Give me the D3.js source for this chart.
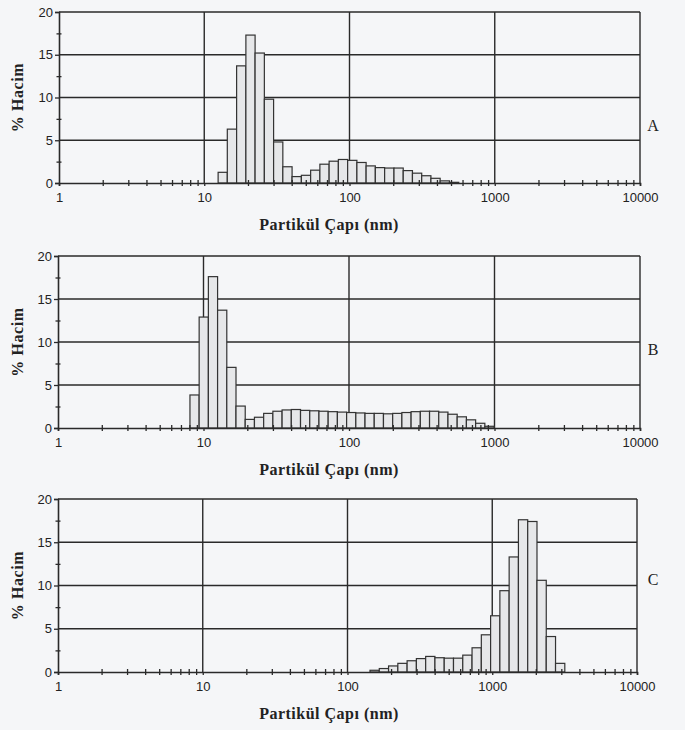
<!DOCTYPE html>
<html>
<head>
<meta charset="utf-8">
<script src="https://cdn.jsdelivr.net/npm/d3@7"></script>
<style>
body { margin:0; background:#f5f6f8; }
svg { display:block; }
.tick text { font-family:"Liberation Sans", Arial, sans-serif; font-size:13px; fill:#222; }
.ttl { font-family:"Liberation Serif", "DejaVu Serif", serif; font-weight:bold; fill:#222; }
</style>
</head>
<body>
<svg id="chart" width="685" height="730"></svg>
<script>
// particle diameter (nm) at the centre of each bin, and % volume
var sizesA = [13.4, 15.5, 18.0, 20.8, 24.1, 27.9, 32.3, 37.4, 43.3, 50.2, 58.1, 67.3, 77.9,
              90.2, 104.5, 121, 140, 162, 188, 218, 252, 292, 338, 391, 453, 525];
var volumeA = [1.25, 6.3, 13.7, 17.3, 15.2, 9.8, 4.8, 1.9, 0.75, 0.9, 1.5, 2.2, 2.55,
               2.75, 2.65, 2.4, 2.0, 1.8, 1.75, 1.75, 1.45, 1.15, 0.85, 0.55, 0.25, 0.08];

var sizesB = [8.68, 10.04, 11.62, 13.44, 15.55, 17.99, 20.82, 24.09, 27.87, 32.25, 37.31,
              43.17, 49.95, 57.79, 66.86, 77.36, 89.51, 103.6, 119.8, 138.6, 160.4, 185.6,
              214.7, 248.4, 287.4, 332.6, 384.8, 445.2, 515.1, 596, 689.6, 797.9, 923.2];
var volumeB = [3.84, 12.9, 17.6, 13.7, 7.05, 2.55, 1.0, 1.25, 1.7, 1.95, 2.1,
               2.15, 2.05, 2.0, 1.95, 1.9, 1.85, 1.8, 1.75, 1.7, 1.7, 1.65,
               1.7, 1.8, 1.9, 1.95, 1.95, 1.85, 1.6, 1.3, 0.95, 0.55, 0.2];

var sizesC = [154, 178.5, 206.9, 239.8, 277.9, 322.1, 373.3, 432.7, 501.5, 581.2, 673.6,
              780.7, 904.8, 1048.7, 1215.4, 1408.7, 1632.7, 1892.3, 2193.2, 2541.9, 2946.1];
var volumeC = [0.2, 0.4, 0.7, 1.0, 1.3, 1.55, 1.8, 1.65, 1.6, 1.6, 1.95,
               2.8, 4.3, 6.5, 9.4, 13.3, 17.6, 17.4, 10.6, 4.1, 1.0];

var xTicks = [1, 10, 100, 1000, 10000];
var yTicks = [0, 5, 10, 15, 20];
var yMinor = [2.5, 7.5, 12.5, 17.5];
var xTitle = 'Partikül Çapı (nm)';
var yTitle = '% Hacim';

var panels = [
  {name:'A', sizes:sizesA, vol:volumeA, left:59, right:640, top:12, bottom:183, letterY:131},
  {name:'B', sizes:sizesB, vol:volumeB, left:58, right:640, top:256, bottom:428, letterY:355},
  {name:'C', sizes:sizesC, vol:volumeC, left:58, right:637, top:499, bottom:672, letterY:585}
];

var svg = d3.select('#chart');
var ink = '#2a2a2a';

// minor ticks 2..9 of every decade
var xMinor = [];
for (var dec = 1; dec < 10000; dec *= 10) {
  for (var m = 2; m <= 9; m++) xMinor.push(dec * m);
}

function binEdges(sizes) {
  var edges = [];
  for (var i = 0; i < sizes.length; i++) {
    var lo, hi;
    if (i > 0) lo = Math.sqrt(sizes[i-1] * sizes[i]);
    else lo = sizes[0] / Math.sqrt(sizes[1] / sizes[0]);
    if (i < sizes.length - 1) hi = Math.sqrt(sizes[i] * sizes[i+1]);
    else hi = sizes[i] * Math.sqrt(sizes[i] / sizes[i-1]);
    edges.push([lo, hi]);
  }
  return edges;
}

panels.forEach(function(p) {
  var x = d3.scaleLog().domain([1, 10000]).range([p.left, p.right]);
  var y = d3.scaleLinear().domain([0, 20]).range([p.bottom, p.top]);
  var g = svg.append('g');

  // horizontal grid
  g.selectAll('line.hg').data(yTicks.slice(1)).enter().append('line')
    .attr('x1', p.left).attr('x2', p.right)
    .attr('y1', function(d){ return y(d); }).attr('y2', function(d){ return y(d); })
    .attr('stroke', ink).attr('stroke-width', 1.4);
  // vertical grid
  g.selectAll('line.vg').data(xTicks.slice(1)).enter().append('line')
    .attr('y1', p.top).attr('y2', p.bottom)
    .attr('x1', function(d){ return x(d); }).attr('x2', function(d){ return x(d); })
    .attr('stroke', ink).attr('stroke-width', 1.4);

  // bars
  var edges = binEdges(p.sizes);
  g.selectAll('rect').data(p.vol).enter().append('rect')
    .attr('x', function(d, i){ return x(edges[i][0]); })
    .attr('width', function(d, i){ return x(edges[i][1]) - x(edges[i][0]); })
    .attr('y', function(d){ return y(d); })
    .attr('height', function(d){ return y(0) - y(d); })
    .attr('fill', '#e6e7e9').attr('stroke', '#333').attr('stroke-width', 1.2);

  // x axis
  var xa = g.append('g').attr('transform', 'translate(0,' + p.bottom + ')')
    .call(d3.axisBottom(x).tickValues(xTicks).tickFormat(d3.format('d')).tickSize(3).tickPadding(7));
  var xm = g.append('g').attr('transform', 'translate(0,' + (p.bottom - 3) + ')')
    .call(d3.axisBottom(x).tickValues(xMinor).tickFormat('').tickSize(6));
  xm.select('.domain').remove();

  // y axis
  var ya = g.append('g').attr('transform', 'translate(' + p.left + ',0)')
    .call(d3.axisLeft(y).tickValues(yTicks).tickSize(4).tickPadding(2));
  var ym = g.append('g').attr('transform', 'translate(' + (p.left + 2.5) + ',0)')
    .call(d3.axisLeft(y).tickValues(yMinor).tickFormat('').tickSize(5));
  ym.select('.domain').remove();

  [xa, xm, ya, ym].forEach(function(a) {
    a.selectAll('line').attr('stroke', ink).attr('stroke-width', 1.3);
    a.selectAll('.domain').attr('stroke', ink).attr('stroke-width', 1.6);
  });

  // titles
  g.append('text').attr('class', 'ttl')
    .attr('x', 329).attr('y', p.bottom + 47)
    .attr('text-anchor', 'middle').style('font-size', '16px').style('letter-spacing', '0.5px')
    .text(xTitle);
  g.append('text').attr('class', 'ttl')
    .attr('transform', 'translate(23,' + ((p.top + p.bottom) / 2) + ') rotate(-90)')
    .attr('text-anchor', 'middle').style('font-size', '16px').style('letter-spacing', '0.6px')
    .text(yTitle);
  g.append('text').attr('class', 'ttl')
    .attr('x', 653).attr('y', p.letterY)
    .attr('text-anchor', 'middle').style('font-size', '16px').style('font-weight', 'normal')
    .text(p.name);
});
</script>
</body>
</html>
